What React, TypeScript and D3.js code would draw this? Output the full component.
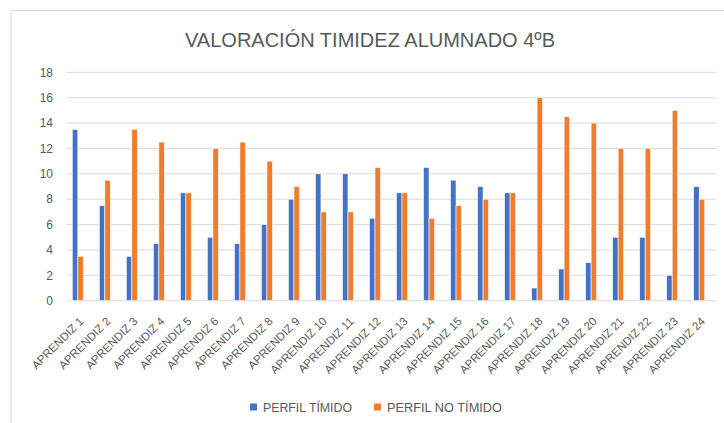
import React from "react";
import * as d3 from "d3";

const categories = Array.from({ length: 24 }, (_, i) => `APRENDIZ ${i + 1}`);
const seriesNames = ["PERFIL TÍMIDO", "PERFIL NO TÍMIDO"];
const timido = [13.5, 7.5, 3.5, 4.5, 8.5, 5, 4.5, 6, 8, 10, 10, 6.5, 8.5, 10.5, 9.5, 9, 8.5, 1, 2.5, 3, 5, 5, 2, 9];
const noTimido = [3.5, 9.5, 13.5, 12.5, 8.5, 12, 12.5, 11, 9, 7, 7, 10.5, 8.5, 6.5, 7.5, 8, 8.5, 16, 14.5, 14, 12, 12, 15, 8];
const yTicks = [0, 2, 4, 6, 8, 10, 12, 14, 16, 18];
const title = "VALORACIÓN TIMIDEZ ALUMNADO 4ºB";
const colors = ["#4472C4", "#ED7D31"];

export default function App() {
  const W = 724, H = 423;
  const y = d3.scaleLinear().domain([0, 18]).range([300.7, 72.3]);
  const x0 = d3.scaleBand<string>().domain(categories).range([64.3, 712.7]).paddingInner(0.59).paddingOuter(0.295);
  const x1 = d3.scaleBand<string>().domain(seriesNames).range([0, x0.bandwidth()]);
  const data = [timido, noTimido];
  const font = "'Liberation Sans', Arial, sans-serif";
  const txt = "#595959";
  const legendX = [250, 374];
  const legendW = [89, 115];
  return (
    <svg width={W} height={H} style={{ position: "absolute", left: 0, top: 0, background: "#fff" }}>
      <rect x={11} y={10.5} width={W + 10} height={H + 10} fill="#fff" stroke="#d9d9d9" strokeWidth={1} />
      <text x={185} y={47} fontFamily={font} fontSize={21} fill={txt} textLength={370} lengthAdjust="spacingAndGlyphs">{title}</text>
      {yTicks.map((t) => (
        <g key={t}>
          <line x1={66.7} x2={716} y1={y(t)} y2={y(t)} stroke="#d9d9d9" strokeWidth={1} />
          <text x={53} y={y(t) + 4.3} textAnchor="end" fontFamily={font} fontSize={12} fill={txt}>{t}</text>
        </g>
      ))}
      {categories.map((c, i) => (
        <g key={c}>
          {seriesNames.map((s, j) => (
            <rect key={s} x={(x0(c) as number) + (x1(s) as number)} y={y(data[j][i])} width={x1.bandwidth()} height={y(0) - y(data[j][i])}
              fill={colors[j]} stroke="#fff" strokeWidth={0.6} />
          ))}
          <text transform={`translate(${(x0(c) as number) + x0.bandwidth() / 2 + 6.5},${322}) rotate(-45)`} textAnchor="end"
            fontFamily={font} fontSize={11.5} fill={txt}>{c}</text>
        </g>
      ))}
      {seriesNames.map((s, j) => (
        <g key={s}>
          <rect x={legendX[j]} y={403.5} width={7} height={7} fill={colors[j]} />
          <text x={legendX[j] + 13} y={411.5} fontFamily={font} fontSize={12} fill={txt} textLength={legendW[j]} lengthAdjust="spacingAndGlyphs">{s}</text>
        </g>
      ))}
    </svg>
  );
}
